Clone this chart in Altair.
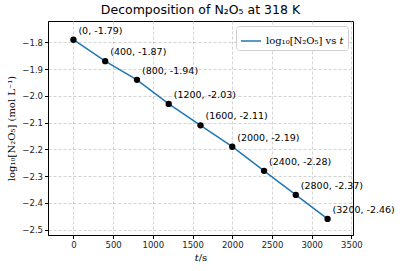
import altair as alt
import pandas as pd

# Time points (s) and log10 of N2O5 concentration (mol/L)
times = [0, 400, 800, 1200, 1600, 2000, 2400, 2800, 3200]
log_conc = [-1.79, -1.87, -1.94, -2.03, -2.11, -2.19, -2.28, -2.37, -2.46]

series_name = "log₁₀[N₂O₅] vs 𝑡"

df = pd.DataFrame({"t": times, "logc": log_conc})
df["label"] = [f"({t}, {v:.2f})" for t, v in zip(times, log_conc)]
df["series"] = series_name

x_enc = alt.X(
    "t:Q",
    scale=alt.Scale(domain=[-320, 3520], nice=False, zero=False),
    axis=alt.Axis(values=[0, 500, 1000, 1500, 2000, 2500, 3000, 3500], format="d",
                  title="𝑡/s"),
)
y_enc = alt.Y(
    "logc:Q",
    scale=alt.Scale(domain=[-2.52, -1.72], nice=False, zero=False),
    axis=alt.Axis(values=[-1.8, -1.9, -2.0, -2.1, -2.2, -2.3, -2.4, -2.5], format=".1f",
                  title="log₁₀[N₂O₅] (mol L⁻¹)"),
)

base = alt.Chart(df).encode(x=x_enc, y=y_enc)

line = base.mark_line(strokeWidth=1.5).encode(
    color=alt.Color(
        "series:N",
        scale=alt.Scale(domain=[series_name], range=["#1f77b4"]),
        legend=alt.Legend(
            title=None,
            orient="top-right",
            offset=5,
            symbolType="stroke",
            symbolSize=400,
            symbolStrokeWidth=1.5,
            labelFont="DejaVu Serif",
            labelFontSize=10,
            labelColor="black",
            fillColor="white",
            strokeColor="#d0d0d0",
            cornerRadius=3,
            padding=4,
        ),
    ),
)

points = base.mark_circle(size=40, color="black", opacity=1)

labels = base.mark_text(
    align="left", baseline="middle", dx=5, dy=-9,
    font="DejaVu Sans", fontSize=9.5, color="black",
).encode(text="label:N")

chart = (
    alt.layer(line, points, labels)
    .properties(
        width=305,
        height=214,
        title=alt.Title("Decomposition of N₂O₅ at 318 K", font="DejaVu Sans",
                        fontSize=12.5, fontWeight="normal", color="black", offset=5),
        autosize=alt.AutoSizeParams(type="none"),
        padding={"left": 48, "top": 21, "right": 47, "bottom": 36},
    )
    .configure_view(stroke="black", strokeWidth=1)
    .configure_axis(
        domainColor="black",
        tickColor="black",
        tickSize=3.5,
        labelFont="DejaVu Sans",
        labelFontSize=8.5,
        labelColor="#222",
        labelOverlap=False,
        labelFlush=False,
        grid=True,
        gridColor="#c8c8c8",
        gridDash=[3, 2],
        gridWidth=0.8,
        titleFont="DejaVu Serif",
        titleFontSize=10,
        titleFontWeight="normal",
        titleColor="black",
    )
    .configure_axisY(titlePadding=5)
    .configure_axisX(titlePadding=3)
)

chart.save("out.html", embed_options={"renderer": "svg", "actions": False})
